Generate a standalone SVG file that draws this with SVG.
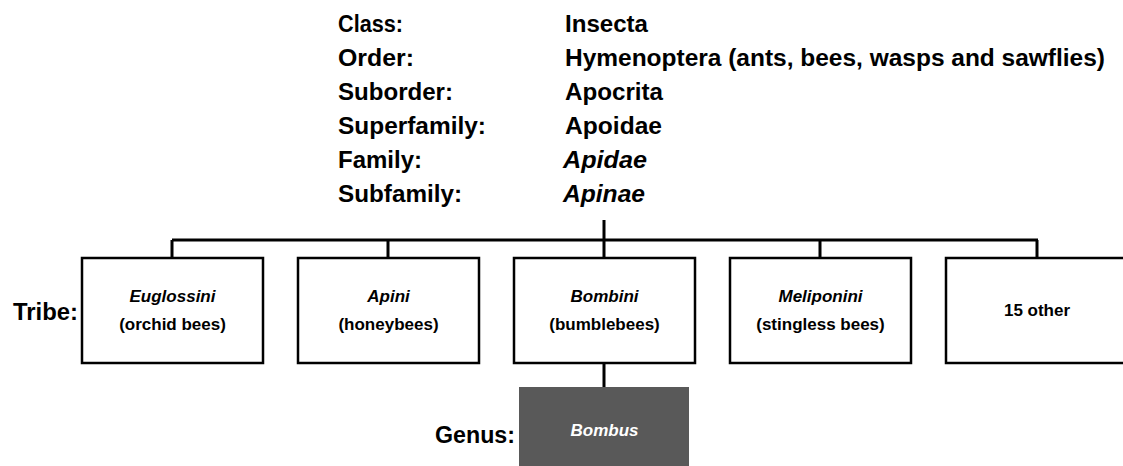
<svg xmlns="http://www.w3.org/2000/svg" width="1123" height="466" viewBox="0 0 1123 466">
<style>
.h{font-family:"Liberation Sans",Arial,sans-serif;font-weight:bold;font-size:23px;fill:#000}
.i{font-style:italic}
.b{font-family:"Liberation Sans",Arial,sans-serif;font-weight:bold;font-size:17px;fill:#000;text-anchor:middle}
.box{fill:#fff;stroke:#000;stroke-width:2.5}
.ln{fill:none;stroke:#000;stroke-width:3}
</style>
<rect width="1123" height="466" fill="#fff"/>
<g id="header">
<text class="h" x="338" y="32" textLength="65" lengthAdjust="spacingAndGlyphs">Class:</text>
<text class="h" x="338" y="66" textLength="76" lengthAdjust="spacingAndGlyphs">Order:</text>
<text class="h" x="338" y="100" textLength="115" lengthAdjust="spacingAndGlyphs">Suborder:</text>
<text class="h" x="338" y="134" textLength="148" lengthAdjust="spacingAndGlyphs">Superfamily:</text>
<text class="h" x="338" y="168" textLength="84" lengthAdjust="spacingAndGlyphs">Family:</text>
<text class="h" x="338" y="202" textLength="124" lengthAdjust="spacingAndGlyphs">Subfamily:</text>
<text class="h" x="565" y="32" textLength="83" lengthAdjust="spacingAndGlyphs">Insecta</text>
<text class="h" x="565" y="66" textLength="540" lengthAdjust="spacingAndGlyphs">Hymenoptera (ants, bees, wasps and sawflies)</text>
<text class="h" x="565" y="100" textLength="98" lengthAdjust="spacingAndGlyphs">Apocrita</text>
<text class="h" x="565" y="134" textLength="97" lengthAdjust="spacingAndGlyphs">Apoidae</text>
<text class="h i" x="563" y="168" textLength="84" lengthAdjust="spacingAndGlyphs">Apidae</text>
<text class="h i" x="563" y="202" textLength="82" lengthAdjust="spacingAndGlyphs">Apinae</text>
</g>
<g id="connectors">
<path class="ln" d="M604 220V240M172 240H1038M172 240V258M388 240V258M604 240V258M820 240V258M1037 240V258M604 363V388"/>
</g>
<text class="h" x="13" y="320" textLength="65" lengthAdjust="spacingAndGlyphs">Tribe:</text>
<g id="euglossini">
<rect class="box" x="82" y="258" width="181" height="105"/>
<text class="b i" x="172.5" y="302">Euglossini</text>
<text class="b" x="172.5" y="330">(orchid bees)</text>
</g>
<g id="apini">
<rect class="box" x="298" y="258" width="181" height="105"/>
<text class="b i" x="388.5" y="302">Apini</text>
<text class="b" x="388.5" y="330">(honeybees)</text>
</g>
<g id="bombini">
<rect class="box" x="514" y="258" width="181" height="105"/>
<text class="b i" x="604.5" y="302">Bombini</text>
<text class="b" x="604.5" y="330">(bumblebees)</text>
</g>
<g id="meliponini">
<rect class="box" x="730" y="258" width="181" height="105"/>
<text class="b i" x="820.5" y="302">Meliponini</text>
<text class="b" x="820.5" y="330">(stingless bees)</text>
</g>
<g id="other">
<rect class="box" x="946" y="258" width="181" height="105"/>
<text class="b" x="1037" y="316">15 other</text>
</g>
<g id="genus">
<text class="h" x="435" y="443" textLength="80" lengthAdjust="spacingAndGlyphs">Genus:</text>
<rect x="519" y="387" width="170" height="85" fill="#595959"/>
<text class="b i" x="604.5" y="436" style="fill:#fff">Bombus</text>
</g>
</svg>
